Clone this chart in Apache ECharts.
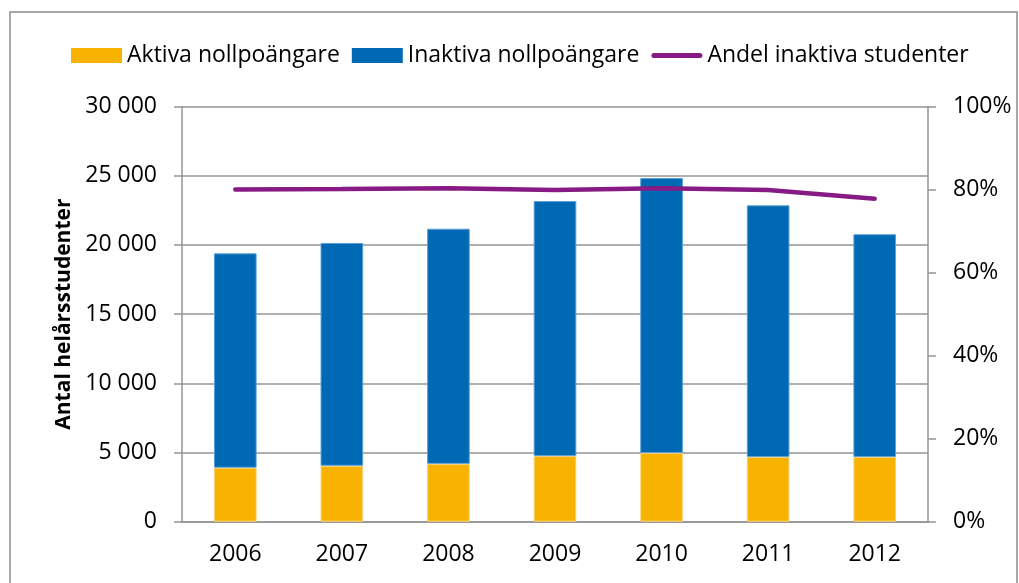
<!DOCTYPE html>
<html>
<head>
<meta charset="utf-8">
<script src="https://cdn.jsdelivr.net/npm/echarts@6/dist/echarts.min.js"></script>
<style>
  html, body { margin: 0; padding: 0; background: #fff; }
  #chart { width: 1019px; height: 583px; }
</style>
</head>
<body>
<div id="chart"></div>
<script>
// data
var years = ["2006", "2007", "2008", "2009", "2010", "2011", "2012"];
var aktiva = [3900, 4040, 4180, 4740, 4960, 4670, 4670];
var inaktiva = [15490, 16100, 16990, 18430, 19870, 18190, 16100];
var andel = [80.0, 80.1, 80.3, 79.9, 80.3, 79.9, 77.8];

var seriesNames = ["Aktiva nollpoängare", "Inaktiva nollpoängare", "Andel inaktiva studenter"];

var FONT = "'Open Sans', 'Liberation Sans', sans-serif";
var GRID_COLOR = "#959595";
var LABEL_SIZE = 23;

function spaced(v) {
    return String(v).replace(/\B(?=(\d{3})+(?!\d))/g, " ");
}

var myChart = echarts.init(document.getElementById("chart"));

var option = {
    animation: false,
    textStyle: { fontFamily: FONT, color: "#000" },
    graphic: [
        {
            type: "rect",
            shape: { x: 10, y: 12, width: 1007, height: 620 },
            style: { fill: "none", stroke: "#8c8c8c", lineWidth: 1.5 },
            silent: true
        }
    ],
    legend: {
        left: 71,
        top: 44,
        padding: 0,
        itemWidth: 51,
        itemHeight: 15,
        itemGap: 12,
        symbolKeepAspect: true,
        itemStyle: { borderWidth: 0 },
        textStyle: { fontFamily: FONT, fontSize: LABEL_SIZE, color: "#000" },
        data: [
            { name: seriesNames[0], icon: "rect" },
            { name: seriesNames[1], icon: "rect" },
            {
                name: seriesNames[2],
                icon: "path://M2.5,0 L48.5,0 A2.5,2.5 0 0 1 48.5,5 L2.5,5 A2.5,2.5 0 0 1 2.5,0 Z"
            }
        ]
    },
    grid: { left: 182, right: 91, top: 106.5, bottom: 61.3 },
    xAxis: {
        type: "category",
        data: years,
        axisLine: { lineStyle: { color: GRID_COLOR, width: 1.5 } },
        axisTick: { length: 8, lineStyle: { color: GRID_COLOR, width: 1.5 } },
        axisLabel: { fontSize: LABEL_SIZE, color: "#000", margin: 21 }
    },
    yAxis: [
        {
            type: "value",
            min: 0,
            max: 30000,
            interval: 5000,
            name: "Antal helårsstudenter",
            nameLocation: "middle",
            nameGap: 106,
            nameTextStyle: { fontFamily: FONT, fontSize: 21, fontWeight: "bold", color: "#000" },
            axisLine: { show: true, lineStyle: { color: GRID_COLOR, width: 1.5 } },
            axisTick: { show: true, length: 8, lineStyle: { color: GRID_COLOR, width: 1.5 } },
            axisLabel: { fontSize: LABEL_SIZE, color: "#000", margin: 25, formatter: spaced },
            splitLine: { lineStyle: { color: GRID_COLOR, width: 1.5 } }
        },
        {
            type: "value",
            min: 0,
            max: 100,
            interval: 20,
            axisLine: { show: true, lineStyle: { color: GRID_COLOR, width: 1.5 } },
            axisTick: { show: true, length: 8, lineStyle: { color: GRID_COLOR, width: 1.5 } },
            axisLabel: { fontSize: LABEL_SIZE, color: "#000", margin: 25, formatter: "{value}%" },
            splitLine: { show: false }
        }
    ],
    series: [
        {
            name: seriesNames[0],
            type: "bar",
            stack: "total",
            barWidth: "40%",
            data: aktiva,
            itemStyle: { color: "#F8B200", borderColor: "#FAD27A", borderWidth: 1 }
        },
        {
            name: seriesNames[1],
            type: "bar",
            stack: "total",
            barWidth: "40%",
            data: inaktiva,
            itemStyle: { color: "#0069B4", borderColor: "#5A9FD8", borderWidth: 1 }
        },
        {
            name: seriesNames[2],
            type: "line",
            yAxisIndex: 1,
            data: andel,
            symbol: "none",
            lineStyle: { color: "#871A84", width: 4.5, cap: "round" },
            itemStyle: { color: "#871A84" }
        }
    ]
};

myChart.setOption(option);
</script>
</body>
</html>
